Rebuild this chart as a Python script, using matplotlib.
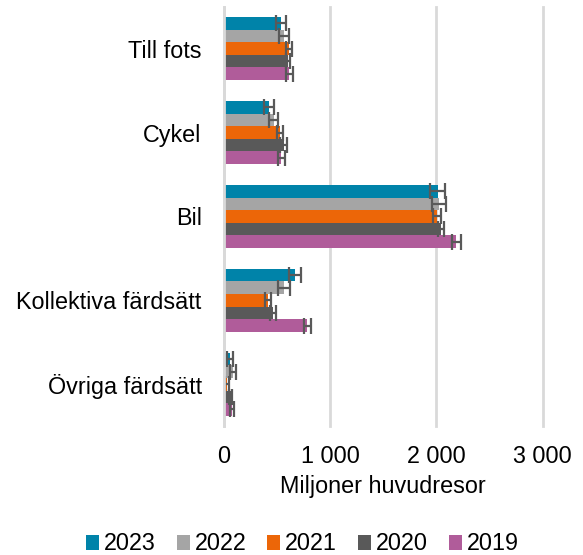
import numpy as np
import matplotlib
matplotlib.use("Agg")
import matplotlib.pyplot as plt
from matplotlib.ticker import FuncFormatter

plt.rcParams['font.family'] = ['Liberation Sans', 'DejaVu Sans']

categories = ["Till fots", "Cykel", "Bil", "Kollektiva färdsätt", "Övriga färdsätt"]
years = ["2023", "2022", "2021", "2020", "2019"]
colors = ["#0083A9", "#A5A5A5", "#EC6608", "#595959", "#B05C9A"]

# values (miljoner huvudresor) per year, same order as categories
v2023 = [538, 423, 2010, 670, 59]
v2022 = [565, 467, 2024, 568, 83]
v2021 = [612, 529, 2005, 416, 30]
v2020 = [604, 565, 2044, 463, 66]
v2019 = [617, 542, 2188, 786, 78]

e2023 = [50, 47, 69, 60, 28]
e2022 = [45, 44, 67, 58, 27]
e2021 = [30, 28, 39, 31, 15]
e2020 = [15, 33, 31, 31, 15]
e2019 = [35, 31, 44, 31, 20]

values = [v2023, v2022, v2021, v2020, v2019]
errors = [e2023, e2022, e2021, e2020, e2019]

fig = plt.figure(figsize=(5.83, 5.55), dpi=100)
ax = fig.add_axes([0.384, 0.232, 0.547, 0.756])

y = np.arange(len(categories))
h = 0.15
for j, (yr, col) in enumerate(zip(years, colors)):
    ax.barh(y + (j - 2) * h, values[j], height=h, color=col, label=yr, zorder=3,
            xerr=errors[j], error_kw=dict(ecolor="#595959", elinewidth=1.6,
                                          capsize=6, capthick=1.6, zorder=4))

ax.set_ylim(len(categories) - 0.5, -0.5)
ax.set_xlim(0, 3000)
ax.set_xticks([0, 1000, 2000, 3000])
ax.xaxis.set_major_formatter(FuncFormatter(lambda v, p: f"{int(v):,}".replace(",", " ")))
ax.set_yticks(y)
ax.set_yticklabels(categories)
ax.tick_params(axis="both", length=0, labelsize=16.8, colors="#000000")
ax.tick_params(axis="y", pad=16)
ax.tick_params(axis="x", pad=13.5)
ax.set_xlabel("Miljoner huvudresor", fontsize=16.8, labelpad=5)

for s in ["top", "right", "bottom"]:
    ax.spines[s].set_visible(False)
ax.spines["left"].set_color("#D9D9D9")
ax.spines["left"].set_linewidth(2)
ax.spines["left"].set_zorder(5)
ax.grid(axis="x", color="#D9D9D9", linewidth=2, zorder=0)
for gl in ax.get_xgridlines():
    gl.set_clip_on(False)

fig.legend(loc="center", bbox_to_anchor=(0.519, 0.02), ncol=5, frameon=False,
           fontsize=16.8, handlelength=0.55, handleheight=0.6, handletextpad=0.22,
           columnspacing=0.9, borderpad=0)

fig.savefig("out.png", dpi=100)
